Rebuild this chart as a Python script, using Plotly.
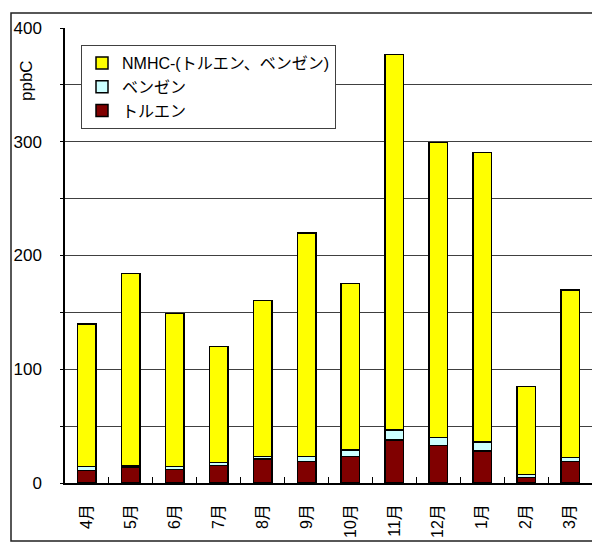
import plotly.graph_objects as go

# Monthly concentrations (ppbC)
months = ["4月", "5月", "6月", "7月", "8月", "9月", "10月", "11月", "12月", "1月", "2月", "3月"]
toluene = [11, 14, 12, 15.5, 21, 19, 23.5, 38, 33, 28, 5, 19]
benzene = [3.5, 0.8, 2.5, 2.6, 2.5, 4.4, 5.5, 8.5, 7, 8, 2.6, 3.5]
nmhc_rest = [125.5, 169.2, 134.5, 101.9, 137, 196.6, 146.5, 330, 259.5, 254.5, 77.4, 147]

series_names = ["トルエン", "ベンゼン", "NMHC-(トルエン、ベンゼン)"]
series_colors = ["#800000", "#CCFFFF", "#FFFF00"]

FONT = "Liberation Sans, Arial, Noto Sans CJK JP, sans-serif"

W, H = 592, 542
L, R, T, B = 65, 0, 28, 59
pw = W - L - R
ph = H - T - B


def px_x(x):
    return (x - L) / pw


def px_y(y):
    return (H - B - y) / ph


fig = go.Figure()
for name, vals, col in zip(series_names, [toluene, benzene, nmhc_rest], series_colors):
    fig.add_trace(go.Bar(
        x=months, y=vals, name=name,
        marker=dict(color=col, line=dict(color="black", width=1.5)),
    ))

fig.update_layout(
    width=W, height=H,
    margin=dict(l=L, r=R, t=T, b=B, pad=0),
    barmode="stack",
    bargap=0.58,
    paper_bgcolor="white",
    plot_bgcolor="white",
    font=dict(family=FONT, size=16, color="black"),
    showlegend=True,
    legend=dict(
        x=px_x(81), y=px_y(45), xanchor="left", yanchor="top",
        bgcolor="white", bordercolor="#404040", borderwidth=1,
        traceorder="reversed",
        font=dict(family=FONT, size=16, color="black"),
        itemwidth=30,
    ),
    xaxis=dict(
        type="category",
        automargin=False,
        showline=True, linecolor="black", linewidth=1.5,
        ticks="inside", ticklen=6, tickcolor="black", tickwidth=1,
        tickson="boundaries",
        tickangle=-90,
        tickfont=dict(family=FONT, size=16, color="black"),
        ticklabelstandoff=13,
        showgrid=False,
        fixedrange=True,
    ),
    yaxis=dict(
        range=[0, 400],
        dtick=100,
        automargin=False,
        showline=True, linecolor="black", linewidth=1.5,
        ticks="outside", ticklen=3, tickcolor="black",
        showgrid=True, gridcolor="#404040", gridwidth=1,
        minor=dict(dtick=50, showgrid=True, gridcolor="#404040", gridwidth=1,
                   ticks="outside", ticklen=3, tickcolor="black"),
        tickfont=dict(family=FONT, size=17, color="black"),
        ticklabelstandoff=15,
        zeroline=False,
        fixedrange=True,
    ),
    annotations=[
        dict(
            text="ppbC", textangle=-90,
            xref="paper", yref="paper",
            x=px_x(26), y=px_y(81),
            xanchor="center", yanchor="middle",
            showarrow=False,
            font=dict(family=FONT, size=17, color="black"),
        )
    ],
    shapes=[
        dict(
            type="rect", xref="paper", yref="paper",
            x0=px_x(11), x1=px_x(W + 20), y0=px_y(541), y1=px_y(13),
            line=dict(color="#202020", width=1.5),
            fillcolor="rgba(0,0,0,0)",
            layer="above",
        )
    ],
)

fig.write_html("out.html")
